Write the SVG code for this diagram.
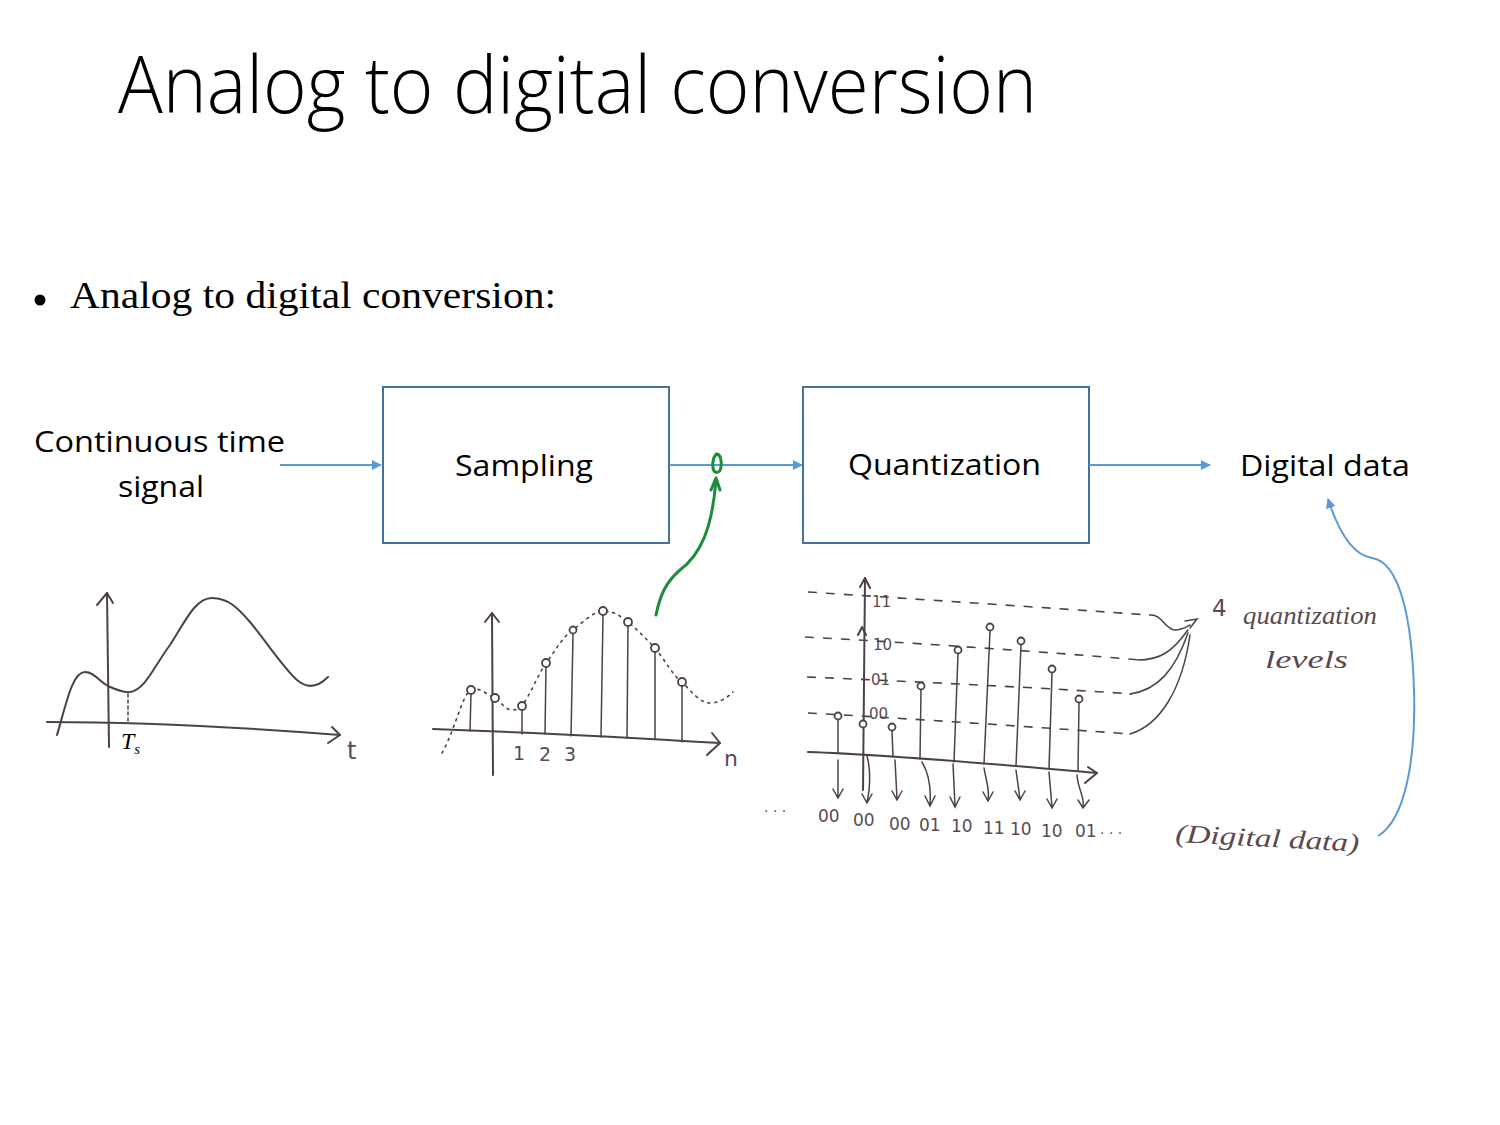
<svg xmlns="http://www.w3.org/2000/svg" width="1500" height="1125" viewBox="0 0 1500 1125">
  <style>
    .title { font-family: "Open Sans", "Liberation Sans", sans-serif; font-weight: 300; font-size: 80px; fill: #000; }
    .bullet { font-family: "Liberation Serif", "DejaVu Serif", serif; font-size: 37px; fill: #000; }
    .lbl { font-family: "Open Sans", "Liberation Sans", sans-serif; font-size: 30px; fill: #000; }
    .box { fill: #fff; stroke: #41719c; stroke-width: 2; }
    .conn { fill: none; stroke: #5b9bd5; stroke-width: 2; }
    .pen { fill: none; stroke: #4d4146; stroke-width: 2; stroke-linecap: round; stroke-linejoin: round; }
    .thin { fill: none; stroke: #4d4146; stroke-width: 1.5; stroke-linecap: round; }
    .dot { fill: none; stroke: #4d4146; stroke-width: 1.6; stroke-dasharray: 2 5; stroke-linecap: round; }
    .dash { fill: none; stroke: #4d4146; stroke-width: 1.6; stroke-dasharray: 9 9; }
    .ring { fill: #fff; stroke: #4d4146; stroke-width: 1.8; }
    .hand { font-family: "DejaVu Sans", sans-serif; font-size: 17px; fill: #5a4a50; }
    .script { font-family: "Liberation Serif", serif; font-style: italic; font-size: 26px; fill: #5a4a50; }
    .green { fill: none; stroke: #1e8c3c; stroke-width: 3; stroke-linecap: round; stroke-linejoin: round; }
  </style>
  <defs>
    <marker id="tri" viewBox="0 0 10 10" refX="9" refY="5" markerWidth="5" markerHeight="5" orient="auto">
      <path d="M0,0 L10,5 L0,10 z" fill="#5b9bd5"/>
    </marker>
  </defs>

  <rect width="1500" height="1125" fill="#fff"/>

  <text class="title" x="118" y="113" textLength="919" lengthAdjust="spacingAndGlyphs">Analog to digital conversion</text>

  <circle cx="40" cy="300" r="5.5" fill="#000"/>
  <text class="bullet" x="70" y="308" textLength="486" lengthAdjust="spacingAndGlyphs">Analog to digital conversion:</text>

  <!-- block diagram nodes -->
  <g id="input">
    <text class="lbl" x="34" y="452" textLength="251" lengthAdjust="spacingAndGlyphs">Continuous time</text>
    <text class="lbl" x="118" y="497" textLength="86" lengthAdjust="spacingAndGlyphs">signal</text>
  </g>
  <g id="sampling">
    <rect class="box" x="383" y="387" width="286" height="156"/>
    <text class="lbl" x="455" y="476" textLength="138" lengthAdjust="spacingAndGlyphs">Sampling</text>
  </g>
  <g id="quantization">
    <rect class="box" x="803" y="387" width="286" height="156"/>
    <text class="lbl" x="848" y="475" textLength="193" lengthAdjust="spacingAndGlyphs">Quantization</text>
  </g>
  <g id="output">
    <text class="lbl" x="1240" y="476" textLength="170" lengthAdjust="spacingAndGlyphs">Digital data</text>
  </g>

  <g id="connectors">
    <line class="conn" x1="280" y1="465" x2="381" y2="465" marker-end="url(#tri)"/>
    <line class="conn" x1="669" y1="465" x2="802" y2="465" marker-end="url(#tri)"/>
    <line class="conn" x1="1089" y1="465" x2="1210" y2="465" marker-end="url(#tri)"/>
    <path class="conn" d="M1378,836 C1405,820 1416,760 1414,690 C1412,620 1400,562 1372,558 C1352,555 1338,530 1328,499" marker-end="url(#tri)"/>
  </g>

  <!-- green annotation: the sampled value -->
  <g id="sample-mark">
    <path class="green" d="M718,455 C714,453 712,462 713,468 C714,474 720,474 721,467 C722,460 720,453 716,454"/>
    <path class="green" d="M656,615 C660,595 666,582 680,570 C700,555 712,530 716,480"/>
    <path class="green" d="M711,490 L716,478 L720,490"/>
  </g>

  <!-- sketch 1: continuous-time signal -->
  <g id="sketch-continuous">
    <path class="pen" d="M109,747 L107,593"/>
    <path class="pen" d="M97,605 L107,593 L113,603"/>
    <path class="pen" d="M47,722 C120,722 200,724 340,735"/>
    <path class="pen" d="M332,727 L340,735 L328,743"/>
    <path class="pen" d="M57,735 C66,705 72,672 85,672 C95,672 100,683 110,687 C118,690 124,693 130,692 C145,690 155,665 170,645 C185,622 195,598 212,598 C228,598 238,608 250,622 C265,640 285,670 297,680 C305,687 315,690 328,677"/>
    <line class="thin" x1="128" y1="694" x2="128" y2="722" stroke-dasharray="3 3"/>
    <text x="121" y="749" font-family="Liberation Serif, serif" font-style="italic" font-size="24" fill="#000">T<tspan font-size="15" dy="5">s</tspan></text>
    <text x="347" y="759" class="hand" style="font-size:24px">t</text>
  </g>

  <!-- sketch 2: sampled sequence -->
  <g id="sketch-sampled">
    <path class="dot" d="M442,753 C455,730 462,695 471,690 C480,686 488,696 495,698 C502,703 506,710 512,710 C518,710 520,707 522,706 C530,695 538,675 546,663 C556,650 563,636 573,630 C585,620 595,611 603,611 C615,611 621,617 628,622 C640,632 647,640 655,648 C665,660 673,676 682,682 C692,692 700,703 710,703 C720,703 728,697 733,692"/>
    <path class="pen" d="M433,729 C520,732 620,737 720,743"/>
    <path class="pen" d="M712,733 L720,743 L707,755"/>
    <path class="pen" d="M493,775 L492,613"/>
    <path class="pen" d="M485,622 L492,613 L499,622"/>
    <g class="thin">
      <line x1="471" y1="694" x2="470" y2="731"/>
      <line x1="522" y1="710" x2="522" y2="734"/>
      <line x1="546" y1="667" x2="545" y2="734"/>
      <line x1="573" y1="634" x2="571" y2="736"/>
      <line x1="603" y1="615" x2="601" y2="737"/>
      <line x1="628" y1="626" x2="627" y2="738"/>
      <line x1="655" y1="652" x2="655" y2="739"/>
      <line x1="682" y1="686" x2="682" y2="742"/>
    </g>
    <g class="ring">
      <circle cx="471" cy="690" r="4"/>
      <circle cx="495" cy="698" r="4"/>
      <circle cx="522" cy="706" r="4"/>
      <circle cx="546" cy="663" r="4"/>
      <circle cx="573" cy="630" r="3.5"/>
      <circle cx="603" cy="611" r="4"/>
      <circle cx="628" cy="622" r="4"/>
      <circle cx="655" cy="648" r="4"/>
      <circle cx="682" cy="682" r="4"/>
    </g>
    <text class="hand" x="519" y="760" text-anchor="middle" style="font-size:19px">1</text>
    <text class="hand" x="545" y="761" text-anchor="middle" style="font-size:19px">2</text>
    <text class="hand" x="570" y="761" text-anchor="middle" style="font-size:19px">3</text>
    <text class="hand" x="731" y="766" text-anchor="middle" style="font-size:22px">n</text>
  </g>

  <!-- sketch 3: quantized sequence and its codes -->
  <g id="sketch-quantized">
    <path class="dash" d="M808,592 C900,598 1050,608 1150,615"/>
    <path class="dash" d="M805,637 C900,642 1050,652 1140,660"/>
    <path class="dash" d="M807,677 C900,681 1050,688 1132,694"/>
    <path class="dash" d="M808,713 C900,718 1050,728 1130,734"/>
    <g class="thin">
      <path d="M1150,615 C1162,614 1165,630 1175,630 C1182,630 1186,627 1190,625"/>
      <path d="M1185,621 L1197,619 L1190,628"/>
      <path d="M1138,660 C1160,660 1172,652 1188,630"/>
      <path d="M1130,694 C1158,690 1175,670 1188,633"/>
      <path d="M1130,734 C1160,725 1182,690 1190,635"/>
    </g>
    <path class="pen" d="M863,790 L865,578"/>
    <path class="pen" d="M860,587 L865,578 L870,588"/>
    <path class="pen" d="M858,635 L862,627 L866,635"/>
    <path class="pen" d="M808,752 C900,755 1000,765 1097,773"/>
    <path class="pen" d="M1088,767 L1097,773 L1085,783"/>
    <g class="hand" style="font-size:15px">
      <text x="872" y="607">11</text>
      <text x="873" y="650">10</text>
      <text x="871" y="685">01</text>
      <text x="869" y="719">00</text>
    </g>
    <g class="thin">
      <line x1="838" y1="720" x2="838" y2="752"/>
      <line x1="892" y1="731" x2="893" y2="756"/>
      <line x1="921" y1="690" x2="920" y2="759"/>
      <line x1="958" y1="654" x2="954" y2="762"/>
      <line x1="990" y1="631" x2="984" y2="764"/>
      <line x1="1021" y1="645" x2="1016" y2="766"/>
      <line x1="1052" y1="673" x2="1049" y2="769"/>
      <line x1="1079" y1="703" x2="1078" y2="771"/>
      <!-- code arrows -->
      <path d="M838,760 L838,797 M833,789 L838,798 L843,789"/>
      <path d="M867,756 C871,770 870,790 867,802 M862,794 L867,803 L872,794"/>
      <path d="M895,760 L897,799 M892,791 L897,800 L902,791"/>
      <path d="M922,762 C930,775 931,790 930,805 M925,796 L930,806 L935,796"/>
      <path d="M953,764 L955,806 M950,797 L955,807 L960,797"/>
      <path d="M984,768 C986,780 990,790 988,800 M983,792 L988,801 L993,792"/>
      <path d="M1016,770 L1020,799 M1015,791 L1020,800 L1025,791"/>
      <path d="M1049,772 L1052,807 M1047,799 L1052,808 L1057,799"/>
      <path d="M1077,775 C1078,790 1085,797 1083,807 M1078,800 L1083,808 L1089,800"/>
    </g>
    <g class="ring">
      <circle cx="838" cy="716" r="3.5"/>
      <circle cx="863" cy="724" r="3.5"/>
      <circle cx="892" cy="727" r="3.5"/>
      <circle cx="921" cy="686" r="3.5"/>
      <circle cx="958" cy="650" r="3.5"/>
      <circle cx="990" cy="627" r="3.5"/>
      <circle cx="1021" cy="641" r="3.5"/>
      <circle cx="1052" cy="669" r="3.5"/>
      <circle cx="1079" cy="699" r="3.5"/>
    </g>
    <g class="hand">
      <text x="764" y="812" style="font-size:14px">. . .</text>
      <text x="818" y="822">00</text>
      <text x="853" y="826">00</text>
      <text x="889" y="830">00</text>
      <text x="919" y="831">01</text>
      <text x="951" y="832">10</text>
      <text x="983" y="834">11</text>
      <text x="1010" y="835">10</text>
      <text x="1041" y="837">10</text>
      <text x="1075" y="837">01</text>
      <text x="1100" y="834" style="font-size:14px">. . .</text>
    </g>
    <text class="hand" x="1212" y="616" style="font-size:23px">4</text>
    <text class="script" x="1243" y="624" textLength="134" lengthAdjust="spacingAndGlyphs">quantization</text>
    <text class="script" x="1265" y="668" textLength="83" lengthAdjust="spacingAndGlyphs">levels</text>
    <text class="script" x="1175" y="842" transform="rotate(3 1175 842)" textLength="184" lengthAdjust="spacingAndGlyphs">(Digital data)</text>
  </g>
</svg>
